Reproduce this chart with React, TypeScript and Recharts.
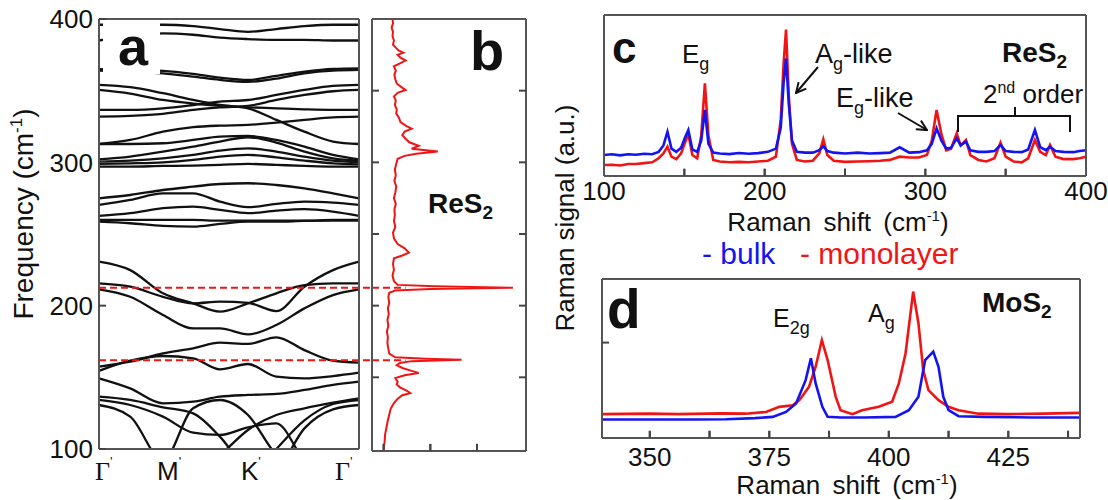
import React from "react";
import { LineChart, Line, XAxis, YAxis, ReferenceLine } from "recharts";

const FONT = "'Liberation Sans', Arial, Helvetica, sans-serif";
const SERIF = "'Liberation Serif', 'Times New Roman', serif";
const RED = "#f01414";
const BLUE = "#1414f0";
const FRAME = "#555";
const INK = "#111";

// ---------- panel a: phonon bands along G'-M'-K'-G' (cm-1)
const kPath = [0, 0.12, 0.246, 0.362, 0.465, 0.573, 0.682, 0.79, 0.9, 1];
const kTicks = [0, 0.246, 0.573, 1];
const kLabels = ["Γ", "M", "K", "Γ"];
const freqTicks = [100, 200, 300, 400];

const upperBands = [
  [396, 396, 396, 395, 393, 391, 393, 395, 396, 396],
  [385, 388, 390, 389, 387, 386, 385.5, 385.5, 385, 385],
  [365, 364.5, 363.8, 361.7, 359.1, 357.5, 360.3, 363.3, 365.2, 365.6],
  [364, 363.3, 362.1, 359.8, 357.5, 356.1, 358.4, 362.1, 364, 364.5],
  [354, 352.4, 348.2, 343.5, 340, 337.7, 329.6, 321.4, 314.5, 312.8],
  [336.6, 336.6, 337.7, 340, 342.4, 343.5, 347, 350.5, 353.3, 354],
  [331.9, 332.4, 333.8, 336.6, 338.4, 339.4, 343.5, 347, 349.6, 350.5],
  [312.8, 315.6, 321.4, 324.5, 325.6, 326.1, 327.7, 329.6, 331.4, 331.9],
  [350.5, 348, 343.5, 341, 339.4, 338.4, 337.7, 337, 336.6, 336.6],
];

const midBands = [
  [312.8, 312.8, 313.3, 315.6, 318, 318.4, 315.6, 311, 305.2, 302.1],
  [302.1, 304, 307.5, 311, 314.5, 317.5, 313.8, 307.5, 302.8, 301.2],
  [300.5, 301.2, 302.8, 305.2, 308.2, 309.8, 307.5, 304, 301.2, 300],
  [298.9, 299.3, 300, 301.7, 304, 305.2, 303.5, 301.2, 299.3, 298.6],
  [297, 297, 297.5, 297.7, 298.2, 298.9, 298.2, 297.5, 297, 297],
  [274.9, 277.2, 280.7, 283, 284.9, 285.4, 284.2, 281.9, 278.4, 274.9],
  [270.3, 273.8, 278.4, 278.4, 272.6, 268.7, 271, 272.6, 271.9, 270.3],
  [262.6, 264.5, 268, 269.1, 266.8, 264.5, 266.3, 267.3, 265.6, 262.6],
  [259.8, 259.8, 259.8, 259.8, 259.3, 259.3, 259.3, 259.3, 259.8, 259.8],
  [258.6, 257.5, 255.6, 255.2, 257, 258.6, 258.6, 259.1, 259.3, 259.3],
];

const lowerBands = [
  [230.7, 224.8, 208.6, 201.6, 195.8, 201.6, 208.6, 214.4, 215.5, 215.5],
  [215.5, 213.2, 206.2, 201.6, 202.8, 202, 196.2, 213.2, 224.8, 230.7],
  [211.4, 206.2, 193.5, 184.1, 184.1, 180, 186.5, 198.1, 207.4, 211.4],
  [157.4, 160.9, 166.7, 170.2, 174.2, 173.3, 177.9, 169, 161.6, 160.2],
  [154.5, 161.6, 164.9, 163.3, 155.6, 159.3, 150.5, 149.3, 150.9, 153.3],
  [149.3, 142.3, 131.9, 133, 136.5, 137.7, 138.4, 141.2, 144.7, 147],
  [136.5, 134.2, 129.1, 124.9, 108.6, 85, 78, 78, 78, 78],
  [78, 78, 78, 85, 96, 113.3, 123.7, 128.4, 132.3, 135.3],
  [134.2, 130.7, 122.6, 111.4, 109.8, 115.1, 117.9, 92, 78, 78],
  [130.7, 122.6, 92, 128.4, 134.2, 123.7, 96, 85, 78, 78],
  [78, 78, 78, 78, 78, 78, 100, 120, 131.4, 134.2],
  [78, 78, 78, 78, 78, 78, 85, 114.4, 127.7, 130.7],
];

const bands = [...upperBands, ...midBands, ...lowerBands];
const ramanLines = [212.5, 162];

// ---------- panel b: ReS2 Raman spectrum turned on its side
const dosFreq = [400, 397, 394, 391, 388, 385, 382, 380, 378, 376.5, 375, 373, 371, 369, 367, 364, 361, 358, 355, 352.5, 350.5, 348.5, 346, 343, 340, 337, 334, 331, 328, 325.5, 323.5, 321.5, 319, 316.5, 314, 311.5, 309.5, 307.5, 306, 304.5, 302.5, 299, 295, 291, 287, 283, 279, 275, 271, 267, 263, 259, 255, 251, 247, 243, 240, 237, 235, 233, 229, 225, 221, 217, 214.5, 213.5, 212.5, 211.6, 210.6, 209, 206, 202, 198, 194, 190, 186, 182, 178, 174, 170, 166.5, 164, 163, 162.2, 161.3, 160, 158.5, 156.5, 154.5, 153, 151.5, 149.5, 147, 145, 143, 140.5, 139, 137.5, 135, 132, 128, 124, 120, 115, 110, 105, 100];
const dosInt = [0.19, 0.2, 0.17, 0.2, 0.19, 0.22, 0.2, 0.26, 0.32, 0.42, 0.3, 0.36, 0.47, 0.35, 0.22, 0.26, 0.23, 0.25, 0.28, 0.38, 0.47, 0.3, 0.22, 0.26, 0.24, 0.28, 0.27, 0.33, 0.36, 0.48, 0.6, 0.45, 0.4, 0.47, 0.55, 0.75, 0.6, 1.16, 0.7, 0.45, 0.3, 0.27, 0.24, 0.26, 0.23, 0.27, 0.25, 0.22, 0.26, 0.23, 0.24, 0.22, 0.25, 0.2, 0.22, 0.3, 0.45, 0.54, 0.4, 0.22, 0.2, 0.22, 0.19, 0.22, 0.3, 1.1, 2.77, 1.0, 0.25, 0.12, 0.1, 0.12, 0.09, 0.11, 0.08, 0.1, 0.07, 0.09, 0.08, 0.1, 0.12, 0.25, 0.9, 1.67, 0.6, 0.35, 0.28, 0.4, 0.6, 0.75, 0.45, 0.25, 0.3, 0.28, 0.35, 0.5, 0.57, 0.4, 0.3, 0.22, 0.15, 0.12, 0.09, 0.06, 0.03, 0.02, 0];
const dosTicksX = [0, 1, 2];
const dosTicksY = [150, 200, 250, 300, 350];

// ---------- panel c: ReS2 bulk vs monolayer
const shiftC = [100, 105, 110, 115, 120, 125, 130, 134, 137, 139.5, 142, 145, 148, 150.5, 152.5, 155, 158, 160.5, 162.8, 165, 168, 172, 178, 184, 190, 196, 202, 207, 210, 211.8, 213.3, 215, 217, 220, 225, 230, 234, 236.5, 239, 243, 250, 258, 265, 272, 278, 284, 290, 296, 301, 304, 307, 310, 313, 316, 319.5, 322, 325.3, 328, 333, 338, 343, 346.8, 350, 355, 360, 364, 368.2, 371.5, 375, 377.6, 381, 386, 392, 396, 400];
const bulkC = [13, 13.5, 12.8, 13.5, 13.2, 13.8, 13.5, 15, 19, 27.5, 17, 15, 17.5, 24, 28.6, 16.5, 15, 22, 41, 20, 14.5, 14, 13.6, 14.3, 13.8, 14.2, 15, 17, 30, 58, 73, 45, 22, 15, 14.5, 14.5, 16, 18.5, 15.5, 14.5, 14, 14.5, 14, 14.2, 14.5, 17.8, 14.5, 14.8, 16, 20, 29.6, 22, 17, 17.5, 23.4, 19, 21.3, 16, 15, 15, 15.5, 19.3, 15.5, 15, 14.8, 16.5, 28.6, 18, 16, 18.2, 15.5, 15, 14.8, 15.5, 16];
const monoC = [6.8, 7, 6.5, 7.5, 7.5, 8, 8.5, 11, 14, 18.2, 12, 10.5, 14, 21, 26, 13, 11, 25, 57.6, 25, 10, 9, 8.5, 8.8, 8.5, 9, 9.5, 12, 35, 70, 91, 50, 20, 10, 9, 9.5, 14, 22.8, 13, 9.5, 8.8, 9, 9.2, 9.5, 10, 12, 11.5, 11.5, 13, 22, 41, 26, 16, 17, 26.5, 19, 22.4, 13, 10, 9, 11, 20.7, 12, 9, 8.5, 11, 22.4, 15, 13, 19.3, 12, 10.5, 10.5, 11, 12];
const ticksC = [100, 150, 200, 250, 300, 350, 400];

// ---------- panel d: MoS2 bulk vs monolayer
const bulkDx = [340, 350, 360, 366, 372, 375.7, 378.5, 380.6, 382.6, 383.7, 384.7, 386.1, 387.2, 390, 395, 401.4, 404.2, 406.2, 407.6, 409.3, 410.4, 411.4, 412.5, 414.6, 420, 430, 440];
const bulkDy = [11.6, 11.6, 11.6, 11.8, 12.5, 13.3, 16.4, 21.7, 36.4, 50.1, 34.3, 19.6, 13.3, 12.9, 12.9, 13.3, 17.5, 25.9, 49, 54.3, 44.8, 25.9, 17.5, 13.7, 13.3, 12.9, 12.9];
const monoDx = [340, 350, 356, 365, 370, 374.3, 377.1, 379.9, 381.3, 383.3, 384.7, 386, 387.2, 388.9, 389.9, 392.4, 394.4, 397.9, 400.7, 402.1, 403.5, 405.1, 406.2, 407.2, 408.3, 410.4, 412.5, 414.6, 418.75, 425, 432.6, 440];
const monoDy = [15, 15.3, 15, 15.5, 15.3, 16.4, 19.6, 20.6, 23.8, 32.2, 44.8, 61.6, 49, 25.9, 17.5, 15, 17.5, 19.6, 22.8, 34.3, 53.2, 92.1, 72.2, 42.7, 30.1, 23.8, 19.6, 17.5, 15.3, 15, 15.3, 15.8];
const ticksD = [350, 362.5, 375, 387.5, 400, 412.5, 425, 437.5];

const axisLine = { stroke: FRAME, strokeWidth: 2 };
const tickLine = { stroke: "#444", strokeWidth: 2 };
const tickFont = { fontSize: 26, fill: INK, fontFamily: FONT };
const blank = () => "";

// label offsets so the glyphs sit where the original put them
const kShift = [-4, -6, -7, -24];

function KTick(props: any) {
  const { x, y, index } = props;
  const serif = kLabels[index] === "Γ";
  return (
    <text x={x + kShift[index]} y={y + 31} fontSize={26} fill={INK} fontFamily={serif ? SERIF : FONT}>
      {kLabels[index]}
      <tspan fontSize={13} dy={-14} fontFamily={FONT}>'</tspan>
    </text>
  );
}

// short inward tick marks standing on the bottom frame
function bottomTicks(values: number[], y0: number, len: number) {
  return values.map((v) => (
    <ReferenceLine key={"tk" + v} segment={[{ x: v, y: y0 }, { x: v, y: y0 + len }]} ifOverflow="visible"
      stroke="#444" strokeWidth={2} />
  ));
}

// frame axes get 1px of room: recharts skips drawing an axis whose box is empty
function PanelA() {
  return (
    <LineChart width={372} height={500} margin={{ top: 18, right: 12, bottom: 11, left: 0 }}>
      <XAxis xAxisId="k" dataKey="t" type="number" domain={[0, 1]} ticks={kTicks} interval={0} height={40}
        tickSize={0} tickMargin={0} tick={<KTick />} axisLine={axisLine} tickLine={false} />
      <XAxis xAxisId="top" orientation="top" type="number" domain={[0, 1]} height={1} tick={false} tickLine={false} axisLine={axisLine} />
      <YAxis yAxisId="f" type="number" domain={[100, 400]} allowDataOverflow ticks={freqTicks} interval={0} width={99}
        tickSize={-7} tickMargin={13} tick={tickFont} tickLine={tickLine} axisLine={axisLine} />
      <YAxis yAxisId="fr" orientation="right" type="number" domain={[100, 400]} ticks={freqTicks} interval={0} width={1}
        tickSize={-7} tickFormatter={blank} tickLine={tickLine} axisLine={axisLine} />
      {bands.map((b, i) => (
        <Line key={i} xAxisId="k" yAxisId="f" data={kPath.map((t, j) => ({ t, f: b[j] }))} dataKey="f" type="monotone"
          stroke={INK} strokeWidth={2.3} dot={false} isAnimationActive={false} />
      ))}
      {ramanLines.map((f) => (
        <ReferenceLine key={f} xAxisId="k" yAxisId="f" segment={[{ x: 0, y: f }, { x: 1.05, y: f }]} ifOverflow="visible"
          stroke={RED} strokeWidth={2} strokeDasharray="7 4" />
      ))}
    </LineChart>
  );
}

function PanelB() {
  const rows = dosFreq.map((f, i) => ({ f, i: dosInt[i] }));
  return (
    <LineChart layout="vertical" width={160} height={460} data={rows} margin={{ top: 18, right: 4, bottom: 8, left: 0 }}>
      <XAxis type="number" domain={[-0.25, 3.05]} ticks={dosTicksX} interval={0} height={1} tickSize={-7}
        tickFormatter={blank} tickLine={tickLine} axisLine={axisLine} />
      <XAxis xAxisId="top" orientation="top" type="number" domain={[-0.25, 3.05]} height={1} tick={false} tickLine={false} axisLine={axisLine} />
      <YAxis dataKey="f" type="number" reversed domain={[98.6, 400]} ticks={dosTicksY} interval={0} width={1} tickSize={-7}
        tickFormatter={blank} tickLine={tickLine} axisLine={axisLine} />
      <YAxis yAxisId="r" orientation="right" dataKey="f" type="number" reversed domain={[98.6, 400]} ticks={dosTicksY} interval={0} width={1}
        tickSize={-7} tickFormatter={blank} tickLine={tickLine} axisLine={axisLine} />
      {ramanLines.map((f) => (
        <ReferenceLine key={f} segment={[{ x: -0.25, y: f }, { x: 0.47, y: f }]} ifOverflow="visible"
          stroke={RED} strokeWidth={2} strokeDasharray="7 4" />
      ))}
      {bottomTicks(dosTicksX, 98.6, 5)}
      <Line dataKey="i" type="linear" stroke={RED} strokeWidth={2} dot={false} isAnimationActive={false} />
    </LineChart>
  );
}

function PanelC() {
  const rows = shiftC.map((x, i) => ({ x, bulk: bulkC[i], mono: monoC[i] }));
  return (
    <LineChart width={548} height={210} data={rows} margin={{ top: 14, right: 21, bottom: 4, left: 0 }}>
      <XAxis dataKey="x" type="number" domain={[100, 400]} ticks={ticksC} interval={0} height={30} tickSize={-7} tickMargin={13}
        tickFormatter={(v: number) => (v % 100 === 0 ? String(v) : "")} tick={tickFont} tickLine={tickLine} axisLine={axisLine} />
      <XAxis xAxisId="top" orientation="top" type="number" domain={[100, 400]} height={1} tick={false} tickLine={false} axisLine={axisLine} />
      <YAxis type="number" domain={[0, 100]} width={44} tick={false} tickLine={false} axisLine={axisLine} />
      <YAxis yAxisId="r" orientation="right" type="number" domain={[0, 100]} width={1} tick={false} tickLine={false} axisLine={axisLine} />
      {bottomTicks(ticksC.slice(1, -1), 0, 4.6)}
      <Line dataKey="mono" type="linear" stroke={RED} strokeWidth={2.6} dot={false} isAnimationActive={false} />
      <Line dataKey="bulk" type="linear" stroke={BLUE} strokeWidth={2.6} dot={false} isAnimationActive={false} />
    </LineChart>
  );
}

function PanelD() {
  const bulk = bulkDx.map((x, i) => ({ x, s: bulkDy[i] }));
  const mono = monoDx.map((x, i) => ({ x, s: monoDy[i] }));
  return (
    <LineChart width={548} height={240} margin={{ top: 18, right: 27, bottom: 22, left: 0 }}>
      <XAxis dataKey="x" type="number" domain={[340, 440]} ticks={ticksD} interval={0} height={40} tickSize={-7} tickMargin={17}
        tickFormatter={(v: number) => (v % 25 === 0 ? String(v) : "")} tick={tickFont} tickLine={tickLine} axisLine={axisLine} />
      <XAxis xAxisId="top" orientation="top" type="number" domain={[340, 440]} height={1} tick={false} tickLine={false} axisLine={axisLine} />
      <YAxis type="number" domain={[0, 100]} ticks={[60]} width={42} tickSize={-7} tickFormatter={blank} tickLine={tickLine} axisLine={axisLine} />
      <YAxis yAxisId="r" orientation="right" type="number" domain={[0, 100]} ticks={[60]} width={1} tickSize={-7}
        tickFormatter={blank} tickLine={tickLine} axisLine={axisLine} />
      {bottomTicks(ticksD, 0, 4.6)}
      <Line data={mono} dataKey="s" type="linear" stroke={RED} strokeWidth={2.6} dot={false} isAnimationActive={false} />
      <Line data={bulk} dataKey="s" type="linear" stroke={BLUE} strokeWidth={2.6} dot={false} isAnimationActive={false} />
    </LineChart>
  );
}

function Overlay() {
  const t = { fontFamily: FONT, fill: INK };
  return (
    <svg width={1108} height={500} style={{ position: "absolute", left: 0, top: 0, pointerEvents: "none" }}>
      <defs>
        <marker id="arr" viewBox="0 0 12 12" refX="11" refY="6" markerWidth="12" markerHeight="12" markerUnits="userSpaceOnUse" orient="auto">
          <path d="M1,1 L11,6 L1,11" fill="none" stroke={INK} strokeWidth="2" />
        </marker>
      </defs>

      {/* panel a */}
      <rect x={103} y={21} width={57} height={53} fill="#fff" />
      <text x={118} y={65} fontSize={54} fontWeight="bold" {...t}>a</text>
      <text transform="translate(33,214) rotate(-90)" textAnchor="middle" fontSize={28} {...t}>
        Frequency (cm<tspan fontSize={17} dy={-11}>-1</tspan><tspan dy={11}>)</tspan>
      </text>

      {/* panel b */}
      <text x={470} y={70} fontSize={56} fontWeight="bold" {...t}>b</text>
      <text x={428} y={213} fontSize={28} fontWeight="bold" {...t}>
        ReS<tspan fontSize={19} dy={6}>2</tspan>
      </text>

      {/* panel c */}
      <text x={612} y={63} fontSize={44} fontWeight="bold" {...t}>c</text>
      <text x={682} y={63} fontSize={26} {...t}>E<tspan fontSize={18} dy={7}>g</tspan></text>
      <text x={815} y={63} fontSize={27} {...t}>A<tspan fontSize={18} dy={7}>g</tspan><tspan dy={-7}>-like</tspan></text>
      <line x1={818} y1={67} x2={796} y2={93} stroke={INK} strokeWidth={2} markerEnd="url(#arr)" />
      <text x={836} y={107} fontSize={27} {...t}>E<tspan fontSize={18} dy={7}>g</tspan><tspan dy={-7}>-like</tspan></text>
      <line x1={898} y1={113} x2={927} y2={130} stroke={INK} strokeWidth={2} markerEnd="url(#arr)" />
      <text x={1002} y={62} fontSize={28} fontWeight="bold" {...t}>ReS<tspan fontSize={19} dy={6}>2</tspan></text>
      <text x={983} y={103} fontSize={26} {...t}>2<tspan fontSize={16} dy={-10}>nd</tspan><tspan dy={10}> order</tspan></text>
      <polyline points="958,132 958,116 1070,116 1070,132" fill="none" stroke={INK} strokeWidth={2} />
      <line x1={1015} y1={116} x2={1015} y2={107} stroke={INK} strokeWidth={2} />

      <text x={838} y={231} textAnchor="middle" fontSize={26} wordSpacing={5} {...t}>
        Raman shift (cm<tspan fontSize={15} dy={-10}>-1</tspan><tspan dy={10}>)</tspan>
      </text>
      <text x={702} y={264} fontSize={30} fontFamily={FONT} fill={BLUE}>- bulk</text>
      <text x={800} y={264} fontSize={30} fontFamily={FONT} fill={RED}>- monolayer</text>
      <text transform="translate(574,218) rotate(-90)" textAnchor="middle" fontSize={26} {...t}>Raman signal (a.u.)</text>

      {/* panel d */}
      <text x={607} y={328} fontSize={55} fontWeight="bold" {...t}>d</text>
      <text x={773} y={327} fontSize={25} {...t}>E<tspan fontSize={18} dy={7}>2g</tspan></text>
      <text x={868} y={322} fontSize={25} {...t}>A<tspan fontSize={18} dy={7}>g</tspan></text>
      <text x={982} y={312} fontSize={28} fontWeight="bold" {...t}>MoS<tspan fontSize={19} dy={6}>2</tspan></text>
      <text x={847} y={494} textAnchor="middle" fontSize={26} wordSpacing={5} {...t}>
        Raman shift (cm<tspan fontSize={15} dy={-10}>-1</tspan><tspan dy={10}>)</tspan>
      </text>
    </svg>
  );
}

export default function App() {
  return (
    <div style={{ position: "absolute", left: 0, top: 0, width: 1108, height: 500, background: "#fff", fontFamily: FONT }}>
      <div style={{ position: "absolute", left: 0, top: 0 }}><PanelA /></div>
      <div style={{ position: "absolute", left: 371, top: 0 }}><PanelB /></div>
      <div style={{ position: "absolute", left: 560, top: 0 }}><PanelC /></div>
      <div style={{ position: "absolute", left: 560, top: 260 }}><PanelD /></div>
      <Overlay />
    </div>
  );
}
